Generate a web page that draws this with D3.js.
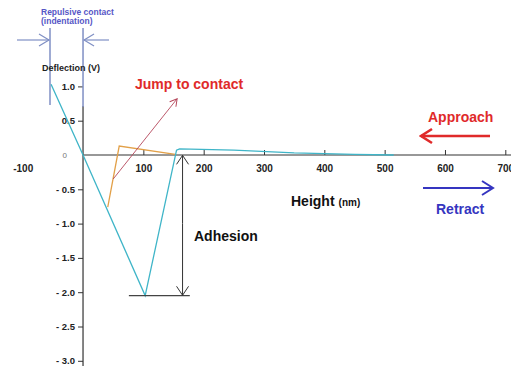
<!DOCTYPE html>
<html>
<head>
<meta charset="utf-8">
<script src="https://cdn.jsdelivr.net/npm/d3@7"></script>
<style>
  html, body { margin: 0; padding: 0; background: #fff; }
  svg { display: block; font-family: "Liberation Sans", Arial, sans-serif; }
</style>
</head>
<body>
<svg id="chart" width="511" height="367"></svg>
<script>
// Force curve: height (nm) vs cantilever deflection (V)
const retractHeight     = [-53, 0, 103, 155, 160, 250, 350, 450, 515];
const retractDeflection = [1.03, 0, -2.05, 0.07, 0.09, 0.07, 0.03, 0.01, 0.0];
const approachHeight     = [153, 60, 41];
const approachDeflection = [0.01, 0.13, -0.76];

const xTicks = [-100, 100, 200, 300, 400, 500, 600, 700];
const xTickLabels = ["-100", "100", "200", "300", "400", "500", "600", "700"];
const yTicks = [1.0, 0.5, 0, -0.5, -1.0, -1.5, -2.0, -2.5, -3.0];
const yTickLabels = ["1.0", "0.5", "0", "- 0.5", "- 1.0", "- 1.5", "- 2.0", "- 2.5", "- 3.0"];

const svg = d3.select("#chart");
const x = d3.scaleLinear().domain([-100, 700]).range([22.7, 505.3]);
const y = d3.scaleLinear().domain([-3, 1]).range([360.8, 86.4]);

const cyan = "#3fb5c8", orange = "#e2a048", jumpRed = "#b4465a";
const red = "#e02a2a", blue = "#3535c0", repCol = "#7f8fc4", repText = "#5656c6";

// arrowhead markers (open V)
const defs = svg.append("defs");
function marker(id, color, len, half, width) {
  defs.append("marker").attr("id", id)
    .attr("markerUnits", "userSpaceOnUse")
    .attr("viewBox", `${-len - 2} ${-half - 2} ${len + 4} ${2 * half + 4}`)
    .attr("markerWidth", len + 4).attr("markerHeight", 2 * half + 4)
    .attr("refX", 0).attr("refY", 0).attr("orient", "auto")
    .append("path").attr("d", `M${-len},${-half}L0,0L${-len},${half}`)
    .attr("fill", "none").attr("stroke", color).attr("stroke-width", width);
}
marker("mRep", repCol, 10, 6, 1.2);
marker("mBlack", "#333", 9, 6, 1);
marker("mJump", jumpRed, 7, 4, 1);
marker("mRed", red, 11, 7, 2.6);
marker("mBlue", blue, 11, 7, 2);

// Y axis
const yAxis = d3.axisLeft(y).tickValues(yTicks).tickSize(5).tickPadding(3)
  .tickFormat((d, i) => yTickLabels[i]);
const gy = svg.append("g").attr("transform", `translate(${x(0)},0)`).call(yAxis);
gy.select(".domain").remove();
gy.selectAll(".tick line").attr("stroke", "#333");
gy.selectAll(".tick text").attr("font-size", 9.5).attr("font-weight", "bold").attr("fill", "#222")
  .attr("font-family", "Liberation Sans, Arial, sans-serif");
gy.selectAll(".tick").filter(d => d === 0).select("text")
  .attr("font-size", 8).attr("font-weight", "normal").attr("fill", "#777").attr("dx", -8);
gy.selectAll(".tick").filter(d => d === 0).select("line").remove();
svg.append("line").attr("x1", x(0)).attr("x2", x(0)).attr("y1", 106).attr("y2", 366)
  .attr("stroke", "#333").attr("stroke-width", 1.2);

// X axis
const xAxis = d3.axisBottom(x).tickValues(xTicks).tickSize(-5).tickPadding(10)
  .tickFormat((d, i) => xTickLabels[i]);
const gx = svg.append("g").attr("transform", `translate(0,${y(0)})`).call(xAxis);
gx.select(".domain").remove();
gx.selectAll(".tick line").attr("stroke", "#333");
gx.selectAll(".tick text").attr("font-size", 10).attr("font-weight", "bold").attr("fill", "#222")
  .attr("font-family", "Liberation Sans, Arial, sans-serif");
gx.selectAll(".tick").filter(d => d < 0).select("line").remove();
svg.append("line").attr("x1", x(0)).attr("x2", 511).attr("y1", y(0)).attr("y2", y(0))
  .attr("stroke", "#333").attr("stroke-width", 1.2);

// repulsive contact bracket
svg.append("line").attr("x1", 50).attr("x2", 50).attr("y1", 28).attr("y2", 105)
  .attr("stroke", repCol).attr("stroke-width", 1.5);
svg.append("line").attr("x1", x(0)).attr("x2", x(0)).attr("y1", 28).attr("y2", 107)
  .attr("stroke", repCol).attr("stroke-width", 1.5);
svg.append("line").attr("x1", 17).attr("x2", 49).attr("y1", 40).attr("y2", 40)
  .attr("stroke", repCol).attr("stroke-width", 1.2).attr("marker-end", "url(#mRep)");
svg.append("line").attr("x1", 109).attr("x2", x(0) + 1).attr("y1", 40).attr("y2", 40)
  .attr("stroke", repCol).attr("stroke-width", 1.2).attr("marker-end", "url(#mRep)");
svg.append("text").attr("x", 41).attr("y", 15).text("Repulsive contact")
  .attr("font-size", 8.5).attr("font-weight", "bold").attr("fill", repText);
svg.append("text").attr("x", 41).attr("y", 24).text("(indentation)")
  .attr("font-size", 8.5).attr("font-weight", "bold").attr("fill", repText);

svg.append("text").attr("x", 42).attr("y", 71).text("Deflection (V)")
  .attr("font-size", 9).attr("font-weight", "bold").attr("fill", "#222");

// curves
const line = d3.line().x(d => x(d[0])).y(d => y(d[1]));
svg.append("path").datum(d3.zip(approachHeight, approachDeflection)).attr("d", line)
  .attr("fill", "none").attr("stroke", orange).attr("stroke-width", 1.3);
svg.append("path").datum(d3.zip(retractHeight, retractDeflection)).attr("d", line)
  .attr("fill", "none").attr("stroke", cyan).attr("stroke-width", 1.3);

// jump to contact
svg.append("line").attr("x1", x(50)).attr("y1", y(-0.35)).attr("x2", x(156)).attr("y2", y(0.82))
  .attr("stroke", jumpRed).attr("stroke-width", 0.9).attr("marker-end", "url(#mJump)");
svg.append("text").attr("x", 135).attr("y", 89).text("Jump to contact")
  .attr("font-size", 14).attr("font-weight", "bold").attr("fill", red);

// adhesion
svg.append("line").attr("x1", x(76)).attr("x2", x(177)).attr("y1", y(-2.05)).attr("y2", y(-2.05))
  .attr("stroke", "#444").attr("stroke-width", 1.1);
svg.append("line").attr("x1", x(165)).attr("x2", x(165)).attr("y1", y(-1.0)).attr("y2", y(-0.005))
  .attr("stroke", "#333").attr("stroke-width", 1).attr("marker-end", "url(#mBlack)");
svg.append("line").attr("x1", x(165)).attr("x2", x(165)).attr("y1", y(-1.0)).attr("y2", y(-2.045))
  .attr("stroke", "#333").attr("stroke-width", 1).attr("marker-end", "url(#mBlack)");
svg.append("text").attr("x", 194).attr("y", 241).text("Adhesion")
  .attr("font-size", 14).attr("font-weight", "bold").attr("fill", "#111");

// axis title
const ht = svg.append("text").attr("x", 291).attr("y", 206).attr("font-weight", "bold").attr("fill", "#111");
ht.append("tspan").attr("font-size", 14).text("Height");
ht.append("tspan").attr("font-size", 10).attr("dx", 4).text("(nm)");

// approach / retract
svg.append("text").attr("x", 428).attr("y", 122).text("Approach")
  .attr("font-size", 14).attr("font-weight", "bold").attr("fill", red);
svg.append("line").attr("x1", 490).attr("x2", 421).attr("y1", 136).attr("y2", 136)
  .attr("stroke", red).attr("stroke-width", 2.6).attr("marker-end", "url(#mRed)");
svg.append("line").attr("x1", 423).attr("x2", 493).attr("y1", 188).attr("y2", 188)
  .attr("stroke", blue).attr("stroke-width", 2).attr("marker-end", "url(#mBlue)");
svg.append("text").attr("x", 436).attr("y", 214).text("Retract")
  .attr("font-size", 14).attr("font-weight", "bold").attr("fill", blue);
</script>
</body>
</html>
